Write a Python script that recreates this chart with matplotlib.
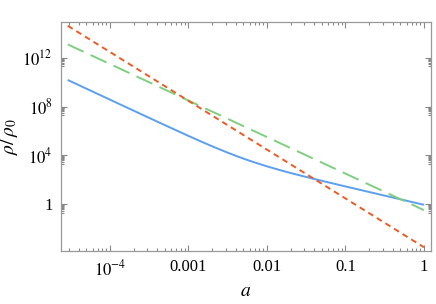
import matplotlib
matplotlib.use("Agg")
import matplotlib.pyplot as plt
from matplotlib.ticker import FixedLocator, NullFormatter

plt.rcParams['font.family'] = ['Liberation Serif', 'DejaVu Serif']
plt.rcParams['mathtext.fontset'] = 'stix'

# radiation-like line (short dashes)
a_red = [2.9e-5, 1.0]
rho_red = [4.2e14, 3e-4]

# matter-like line (long dashes)
a_green = [2.9e-5, 1.0]
rho_green = [1.25e13, 0.33]

# solid curve
a_blue = [2.9e-5, 1e-4, 3e-4, 5e-4, 1e-3, 1.5e-3, 2e-3, 3e-3, 4e-3, 6e-3,
          1e-2, 1.5e-2, 2e-2, 3e-2, 4e-2, 6e-2, 0.1, 0.15, 0.2, 0.3, 0.4, 0.6, 1.0]
rho_blue = [1.52e10, 3.71e8, 1.39e7, 3.04e6, 3.98e5, 1.25e5, 5.64e4, 1.92e4, 9.34e3, 3.65e3,
            1270, 600, 364, 187, 118, 62.9, 28.8, 15.6, 10.1, 5.5, 3.56, 1.94, 0.9]

x_ticks = [1e-4, 1e-3, 1e-2, 0.1, 1]
x_labels = [r'$10^{-4}$', '0.001', '0.01', '0.1', '1']
y_ticks = [1, 1e4, 1e8, 1e12]
y_labels = ['1', r'$10^{4}$', r'$10^{8}$', r'$10^{12}$']

fig = plt.figure(figsize=(4.36, 3.04), dpi=100)
ax = fig.add_axes([61/436, 1 - 251/304, 370/436, 229/304])

ax.loglog(a_blue, rho_blue, color='#5b9ff0', lw=1.4, solid_capstyle='butt')
ax.loglog(a_green, rho_green, color='#7fcf7f', lw=1.4, dashes=(9, 4))
ax.loglog(a_red, rho_red, color='#ee5a26', lw=1.4, dashes=(3, 2.2))

ax.set_xlim(2.38e-5, 1.23)
ax.set_ylim(10**-3.83, 10**14.93)

ax.xaxis.set_major_locator(FixedLocator(x_ticks))
ax.set_xticklabels(x_labels)
x_minor = [j * 10.0**k for k in range(-5, 1) for j in range(2, 10)]
ax.xaxis.set_minor_locator(FixedLocator(x_minor))
ax.xaxis.set_minor_formatter(NullFormatter())

ax.yaxis.set_major_locator(FixedLocator(y_ticks))
ax.set_yticklabels(y_labels)
y_minor = [j * 10.0**(k - 1) for k in (0, 4, 8, 12) for j in range(2, 10)]
ax.yaxis.set_minor_locator(FixedLocator(y_minor))
ax.yaxis.set_minor_formatter(NullFormatter())

ax.tick_params(which='both', direction='in', top=True, right=True,
               color='#888888', labelsize=12, width=0.8)
ax.tick_params(which='major', length=4, pad=6)
ax.tick_params(which='minor', length=2)
for s in ax.spines.values():
    s.set_color('#999999')
    s.set_linewidth(0.9)

ax.set_xlabel(r'$a$', fontsize=14, labelpad=3)
ax.set_ylabel(r'$\rho/\,\rho_0$', fontsize=14, labelpad=2)

fig.savefig('out.png', dpi=100)
